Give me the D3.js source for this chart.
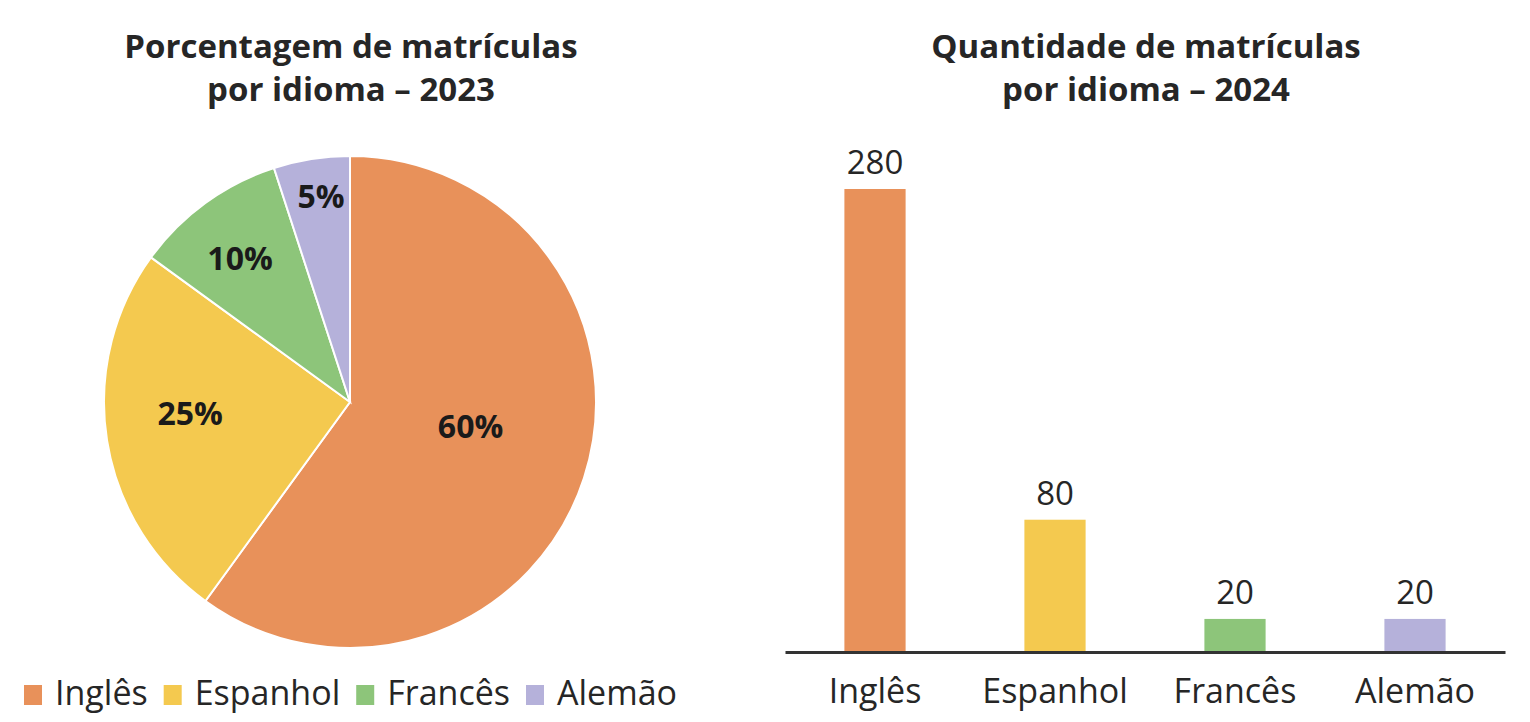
<!DOCTYPE html>
<html>
<head>
<meta charset="utf-8">
<script src="https://cdn.jsdelivr.net/npm/d3@7"></script>
<style>
  body { margin: 0; background: #fff; }
  svg text { font-family: "Open Sans", Lato, sans-serif; fill: #262626; }
</style>
</head>
<body>
<div id="chart"></div>
<script>
const languages = ['Inglês', 'Espanhol', 'Francês', 'Alemão'];
const percent2023 = [60, 25, 10, 5];
const count2024 = [280, 80, 20, 20];
const colors = ['#e8915a', '#f4c94f', '#8dc57a', '#b5b1da'];

const pieTitle = ['Porcentagem de matrículas', 'por idioma – 2023'];
const barTitle = ['Quantidade de matrículas', 'por idioma – 2024'];

// label offsets from pie center, as fractions of the radius (best-fit placement)
const labelOffset = [[0.49, 0.10], [-0.65, 0.045], [-0.447, -0.585], [-0.118, -0.837]];

const W = 1530, H = 722;

const svg = d3.select('#chart').append('svg')
  .attr('width', W)
  .attr('height', H);

function title(lines, cx) {
  svg.append('text')
    .attr('text-anchor', 'middle')
    .attr('font-size', 33)
    .attr('font-weight', 'bold')
    .selectAll('tspan')
    .data(lines)
    .join('tspan')
    .attr('x', cx)
    .attr('y', (d, i) => 58 + i * 43)
    .text(d => d);
}

title(pieTitle, 351);
title(barTitle, 1146);

// pie
const cx = 350, cy = 402, R = 246;
const pie = d3.pie().sort(null).value(d => d.v);
const arcs = pie(languages.map((l, i) => ({l, v: percent2023[i], i})));
const arc = d3.arc().innerRadius(0).outerRadius(R);

const pg = svg.append('g').attr('transform', 'translate(' + cx + ',' + cy + ')');

pg.selectAll('path')
  .data(arcs)
  .join('path')
  .attr('d', arc)
  .attr('fill', d => colors[d.data.i])
  .attr('stroke', '#fff')
  .attr('stroke-width', 2);

pg.selectAll('text')
  .data(arcs)
  .join('text')
  .attr('x', d => labelOffset[d.data.i][0] * R)
  .attr('y', d => labelOffset[d.data.i][1] * R)
  .attr('text-anchor', 'middle')
  .attr('dy', '0.36em')
  .attr('font-size', 32)
  .attr('font-weight', 'bold')
  .style('fill', '#1a1a1a')
  .text(d => d.data.v + '%');

// legend
const lg = svg.append('g').attr('transform', 'translate(24,0)');
let lx = 0;
languages.forEach((l, i) => {
  lg.append('rect')
    .attr('x', lx).attr('y', 685)
    .attr('width', 18).attr('height', 20)
    .attr('fill', colors[i]);
  const t = lg.append('text')
    .attr('x', lx + 31).attr('y', 705)
    .attr('font-size', 34)
    .text(l);
  lx += 31 + t.node().getComputedTextLength() + 16;
});

// bars
const x = d3.scaleBand().domain(languages).range([785, 1505])
  .paddingInner(0.66).paddingOuter(0.33);
const y = d3.scaleLinear().domain([0, 280]).range([652, 189]);

svg.selectAll('rect.bar')
  .data(languages)
  .join('rect')
  .attr('class', 'bar')
  .attr('x', d => x(d))
  .attr('width', x.bandwidth())
  .attr('y', (d, i) => y(count2024[i]))
  .attr('height', (d, i) => y(0) - y(count2024[i]))
  .attr('fill', (d, i) => colors[i]);

svg.selectAll('text.val')
  .data(languages)
  .join('text')
  .attr('class', 'val')
  .attr('x', d => x(d) + x.bandwidth() / 2)
  .attr('y', (d, i) => y(count2024[i]) - 15)
  .attr('text-anchor', 'middle')
  .attr('font-size', 33)
  .text((d, i) => count2024[i]);

const xaxis = d3.axisBottom(x).tickSize(0).tickPadding(0);
const ax = svg.append('g')
  .attr('transform', 'translate(0,' + y(0) + ')')
  .call(xaxis);
ax.select('.domain').attr('stroke', '#333').attr('stroke-width', 3);
ax.selectAll('.tick text')
  .attr('dy', null)
  .attr('y', 51)
  .attr('font-size', 34)
  .attr('font-family', null)
  .style('fill', '#262626');
</script>
</body>
</html>
